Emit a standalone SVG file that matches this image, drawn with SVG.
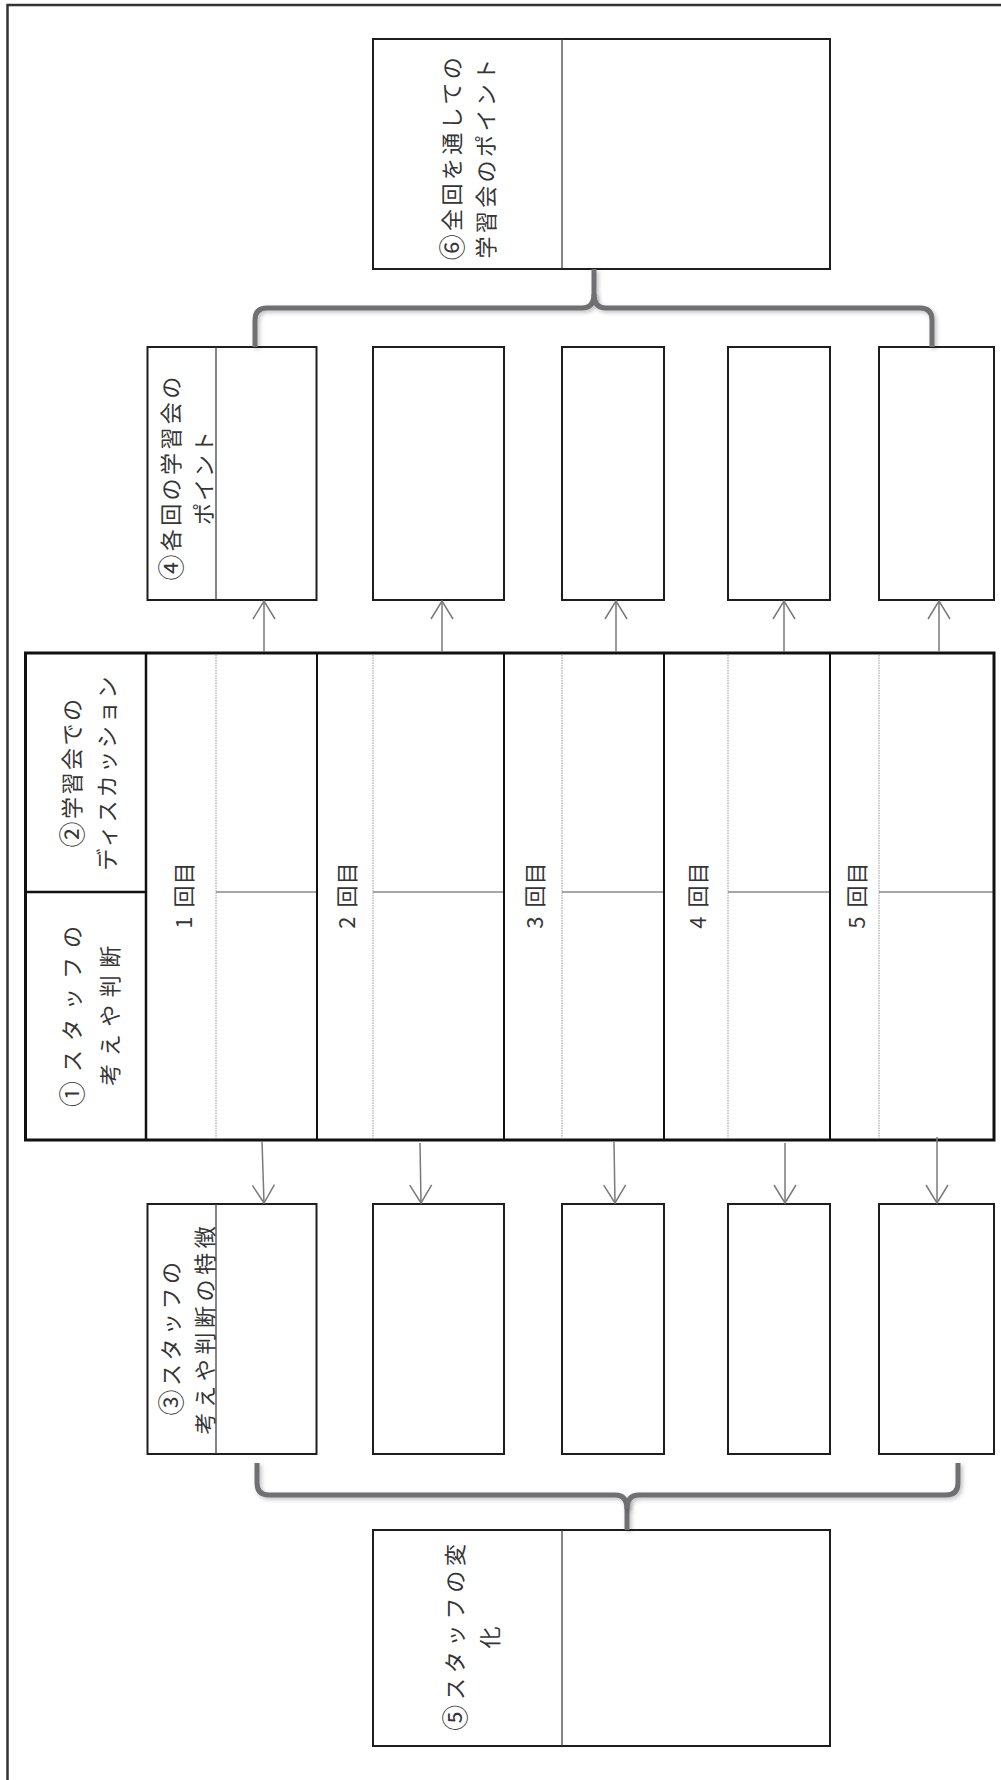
<svg xmlns="http://www.w3.org/2000/svg" width="1001" height="1780" viewBox="0 0 1001 1780">
<style>
.bg{fill:#fff}
.box{fill:#fff;stroke:#1e1e1e;stroke-width:2}
.div{stroke:#333;stroke-width:1.2}
.lbl{font-family:"Noto Sans CJK JP","Noto Sans",sans-serif;font-size:22px;fill:#353535;text-anchor:middle;dominant-baseline:central;letter-spacing:3px}
.cd{font-size:26px}
.arrow{stroke:#7a7a7a;stroke-width:1.5;fill:none;marker-end:url(#ah)}
.brace{stroke:#6f6f72;stroke-width:5;fill:none;stroke-linejoin:round;stroke-linecap:butt;filter:url(#sh)}
.thick{stroke:#111;stroke-width:2.5;fill:none}
.dot{stroke:#9a9a9a;stroke-width:1;stroke-dasharray:1.5 1}
.hl{stroke:#8a8a8a;stroke-width:1.5}
.frame{stroke:#333;stroke-width:2.5;fill:none}
</style>
<defs>
<marker id="ah" markerUnits="userSpaceOnUse" markerWidth="22" markerHeight="26" viewBox="0 0 22 26" refX="20" refY="13" orient="auto">
<path d="M2,2 L20,13 L2,24" fill="none" stroke="#7a7a7a" stroke-width="1.5"/>
</marker>
<filter id="sh" x="-10%" y="-30%" width="120%" height="160%">
<feDropShadow dx="2" dy="2" stdDeviation="2" flood-color="#000" flood-opacity="0.25"/>
</filter>
</defs>
<rect class="bg" x="0" y="0" width="1001" height="1780"/>
<g id="frame">
<path class="frame" d="M7.5,1780 V5 H1001"/>
</g>

<g id="node6">
<rect class="box" x="373" y="39" width="457" height="230"/>
<line class="div" x1="562" y1="39" x2="562" y2="269"/>
<text class="lbl" x="450" y="157" transform="rotate(-90 450 157)" style="letter-spacing:3.4px"><tspan class="cd">⑥</tspan>全回を通しての</text>
<text class="lbl" x="484" y="157" transform="rotate(-90 484 157)" style="letter-spacing:3.4px">学習会のポイント</text>
</g>

<g id="node4-1">
<rect class="box" x="147.5" y="347" width="169" height="253"/>
<line class="div" x1="216" y1="347" x2="216" y2="600"/>
<text class="lbl" x="169" y="477" transform="rotate(-90 169 477)" style="letter-spacing:3.4px"><tspan class="cd">④</tspan>各回の学習会の</text>
<text class="lbl" x="202" y="477" transform="rotate(-90 202 477)" style="letter-spacing:2px">ポイント</text>
</g>
<g id="node4-2"><rect class="box" x="373" y="347" width="131" height="253"/></g>
<g id="node4-3"><rect class="box" x="562" y="347" width="102" height="253"/></g>
<g id="node4-4"><rect class="box" x="728" y="347" width="102" height="253"/></g>
<g id="node4-5"><rect class="box" x="879" y="347" width="115" height="253"/></g>

<g id="table">
<rect class="bg" x="25.5" y="653" width="968.5" height="487"/>
<g id="round-grid">
<line class="dot" x1="216" y1="655" x2="216" y2="1138"/>
<line class="dot" x1="373" y1="655" x2="373" y2="1138"/>
<line class="dot" x1="562" y1="655" x2="562" y2="1138"/>
<line class="dot" x1="728" y1="655" x2="728" y2="1138"/>
<line class="dot" x1="879" y1="655" x2="879" y2="1138"/>
<line class="hl" x1="216" y1="892" x2="317" y2="892"/>
<line class="hl" x1="373" y1="892" x2="504" y2="892"/>
<line class="hl" x1="562" y1="892" x2="664" y2="892"/>
<line class="hl" x1="728" y1="892" x2="830" y2="892"/>
<line class="hl" x1="879" y1="892" x2="994" y2="892"/>
<line class="thick" x1="317" y1="653" x2="317" y2="1140" style="stroke-width:2"/>
<line class="thick" x1="504" y1="653" x2="504" y2="1140" style="stroke-width:2"/>
<line class="thick" x1="664" y1="653" x2="664" y2="1140" style="stroke-width:2"/>
<line class="thick" x1="830" y1="653" x2="830" y2="1140" style="stroke-width:2"/>
</g>
<g id="header2">
<text class="lbl" x="70" y="772" transform="rotate(-90 70 772)" style="letter-spacing:2.5px"><tspan class="cd">②</tspan>学習会での</text>
<text class="lbl" x="105" y="772" transform="rotate(-90 105 772)" style="letter-spacing:2.8px">ディスカッション</text>
</g>
<g id="header1">
<text class="lbl" x="70" y="1012" transform="rotate(-90 70 1012)" style="letter-spacing:9px"><tspan class="cd">①</tspan>スタッフの</text>
<text class="lbl" x="108" y="1012" transform="rotate(-90 108 1012)" style="letter-spacing:7.5px">考えや判断</text>
</g>
<line class="thick" x1="25.5" y1="892" x2="146" y2="892"/>
<line class="thick" x1="146" y1="653" x2="146" y2="1140"/>
<rect class="thick" x="25.5" y="653" width="968.5" height="487" style="stroke-width:3"/>
<g id="round-labels">
<text class="lbl" x="182" y="895" transform="rotate(-90 182 895)" style="letter-spacing:1px">1<tspan dx="8">回目</tspan></text>
<text class="lbl" x="345" y="895" transform="rotate(-90 345 895)" style="letter-spacing:1px">2<tspan dx="8">回目</tspan></text>
<text class="lbl" x="533" y="895" transform="rotate(-90 533 895)" style="letter-spacing:1px">3<tspan dx="8">回目</tspan></text>
<text class="lbl" x="696" y="895" transform="rotate(-90 696 895)" style="letter-spacing:1px">4<tspan dx="8">回目</tspan></text>
<text class="lbl" x="855" y="895" transform="rotate(-90 855 895)" style="letter-spacing:1px">5<tspan dx="8">回目</tspan></text>
</g>
</g>

<g id="node3-1">
<rect class="box" x="147.5" y="1204" width="169" height="250"/>
<line class="div" x1="216" y1="1204" x2="216" y2="1454"/>
<text class="lbl" x="169" y="1337" transform="rotate(-90 169 1337)" style="letter-spacing:3.5px"><tspan class="cd">③</tspan>スタッフの</text>
<text class="lbl" x="203" y="1328" transform="rotate(-90 203 1328)" style="letter-spacing:4.6px">考えや判断の特徴</text>
</g>
<g id="node3-2"><rect class="box" x="373" y="1204" width="131" height="250"/></g>
<g id="node3-3"><rect class="box" x="562" y="1204" width="102" height="250"/></g>
<g id="node3-4"><rect class="box" x="728" y="1204" width="102" height="250"/></g>
<g id="node3-5"><rect class="box" x="879" y="1204" width="115" height="250"/></g>

<g id="node5">
<rect class="box" x="373" y="1530" width="457" height="216"/>
<line class="div" x1="562" y1="1530" x2="562" y2="1746"/>
<text class="lbl" x="453" y="1635" transform="rotate(-90 453 1635)" style="letter-spacing:4.8px"><tspan class="cd">⑤</tspan>スタッフの変</text>
<text class="lbl" x="488" y="1635" transform="rotate(-90 488 1635)" style="letter-spacing:4.8px">化</text>
</g>

<g id="connectors">
<line class="arrow" x1="264" y1="652" x2="264" y2="601"/>
<line class="arrow" x1="442" y1="652" x2="442" y2="601"/>
<line class="arrow" x1="616" y1="652" x2="616" y2="601"/>
<line class="arrow" x1="784" y1="652" x2="784" y2="601"/>
<line class="arrow" x1="939" y1="652" x2="939" y2="601"/>
<line class="arrow" x1="262" y1="1141" x2="264" y2="1203"/>
<line class="arrow" x1="420" y1="1143" x2="421" y2="1203"/>
<line class="arrow" x1="614" y1="1142" x2="615" y2="1203"/>
<line class="arrow" x1="785" y1="1143" x2="785" y2="1203"/>
<line class="arrow" x1="937" y1="1137" x2="937" y2="1203"/>
<path class="brace" d="M255,347 V320 Q255,308 267,308 H582 Q594,308 594,294 V269"/>
<path class="brace" d="M594,294 Q594,308 606,308 H920 Q932,308 932,320 V347"/>
<path class="brace" d="M257,1463 V1483 Q257,1495 269,1495 H615 Q627,1495 627,1509 V1530"/>
<path class="brace" d="M627,1509 Q627,1495 639,1495 H946 Q958,1495 958,1483 V1463"/>
</g>
</svg>
